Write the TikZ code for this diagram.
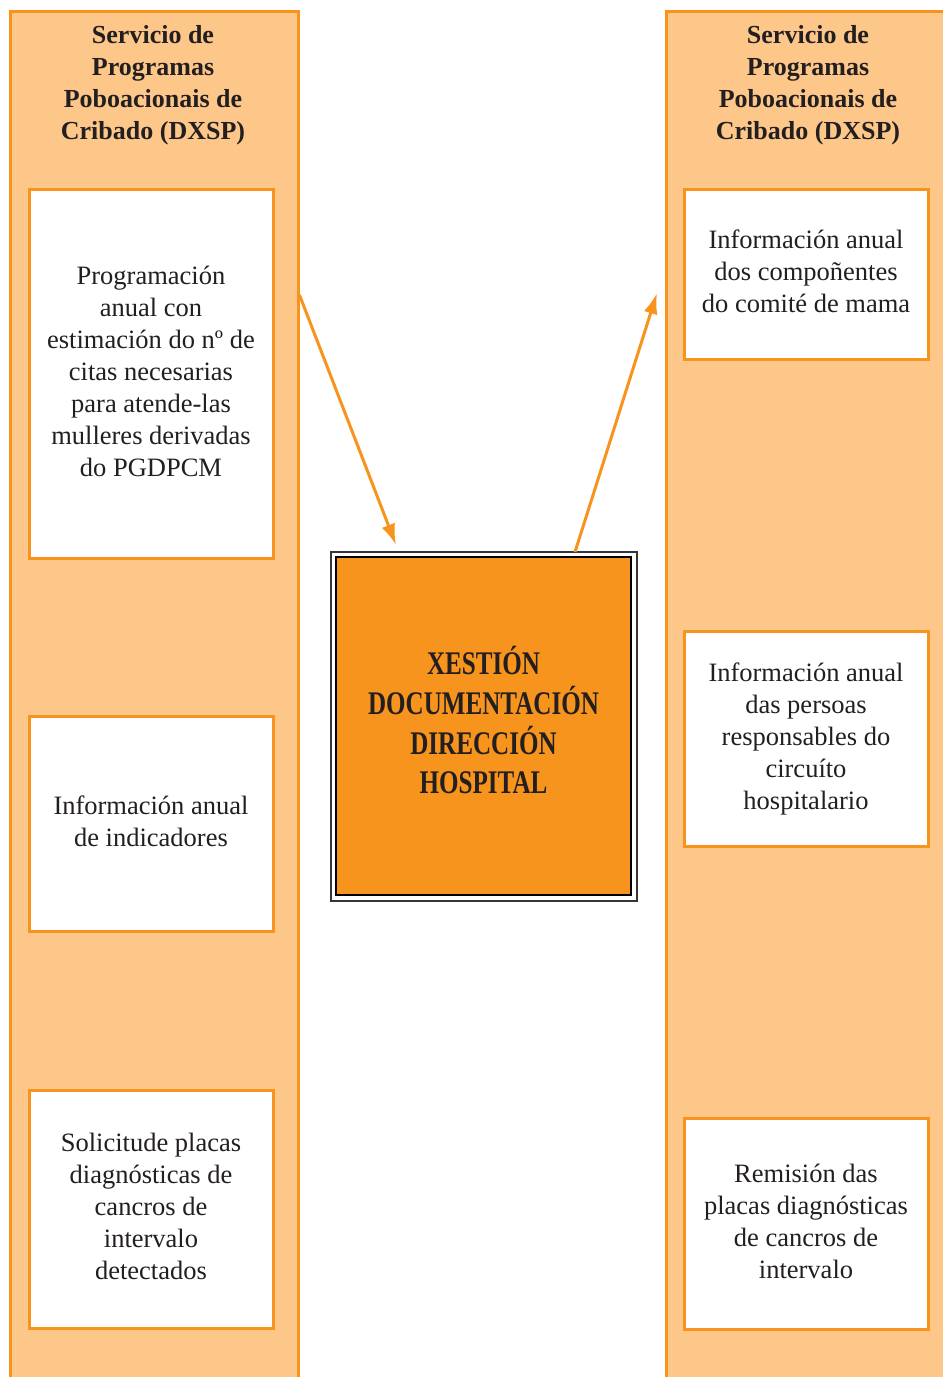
\documentclass[tikz,border=0pt]{standalone}
\usepackage{fontspec}
\setmainfont{Liberation Serif}
\newfontfamily\condfont[FakeStretch=0.76]{Liberation Serif}
\usetikzlibrary{arrows.meta}
\definecolor{panelfill}{HTML}{FDC78A}
\definecolor{orangeline}{HTML}{F7941D}
\definecolor{centerfill}{HTML}{F7941D}
\definecolor{ink}{HTML}{231F20}
\newcommand\stacklines[2]{\raisebox{#1}{\begin{tabular}{@{}c@{}}#2\end{tabular}}}
\tikzset{
  panel/.style={draw=orangeline, fill=panelfill, line width=2.5pt},
  infobox/.style={draw=orangeline, fill=white, line width=3pt, minimum width=244pt, align=center, text=ink,
    font=\fontsize{26.5}{32}\selectfont, inner sep=0pt, anchor=north},
  header/.style={align=center, text=ink, font=\fontsize{26}{32}\selectfont\bfseries, anchor=north},
  flow/.style={draw=orangeline, line width=3pt, -{Latex[length=21pt,width=14pt]}},
}
\begin{document}
\begin{tikzpicture}[x=1pt,y=-1pt]
\useasboundingbox (0,0) rectangle (943,1377);
\clip (0,0) rectangle (943,1377);
% panels
\node[panel, minimum width=288pt, minimum height=1400pt, anchor=north west, inner sep=0pt] (lp) at (9,10) {};
\node[panel, minimum width=300pt, minimum height=1400pt, anchor=north west, inner sep=0pt] (rp) at (665,10) {};
% headers
\node[header] (lh) at (153,22) {Servicio de\\Programas\\Poboacionais de\\Cribado (DXSP)};
\node[header] (rh) at (808,22) {Servicio de\\Programas\\Poboacionais de\\Cribado (DXSP)};
% left boxes
\node[infobox, minimum height=369pt] (l1) at (151,188) {\stacklines{3.5pt}{Programación\\anual con\\estimación do nº de\\citas necesarias\\para atende-las\\mulleres derivadas\\do PGDPCM}};
\node[infobox, minimum height=215pt] (l2) at (151,715) {\stacklines{3.5pt}{Información anual\\de indicadores}};
\node[infobox, minimum height=238pt] (l3) at (151,1089) {\stacklines{3.5pt}{Solicitude placas\\diagnósticas de\\cancros de\\intervalo\\detectados}};
% right boxes
\node[infobox, minimum height=170pt] (r1) at (806,188) {\stacklines{3.5pt}{Información anual\\dos compoñentes\\do comité de mama}};
\node[infobox, minimum height=215pt] (r2) at (806,630) {\stacklines{3.5pt}{Información anual\\das persoas\\responsables do\\circuíto\\hospitalario}};
\node[infobox, minimum height=211pt] (r3) at (806,1117) {\stacklines{3.5pt}{Remisión das\\placas diagnósticas\\de cancros de\\intervalo}};
% center box
\node[draw=black, line width=2pt, fill=centerfill, minimum width=295pt, minimum height=338pt, inner sep=0pt,
  align=center, text=ink, font=\fontsize{33}{39}\selectfont\condfont\bfseries] (c) at (483.5,726)
  {\stacklines{5.5pt}{XESTIÓN\\DOCUMENTACIÓN\\DIRECCIÓN\\HOSPITAL}};
\draw[draw=ink!90, line width=2pt] ([shift={(-4.5pt,4.5pt)}]c.north west) rectangle ([shift={(4.5pt,-4.5pt)}]c.south east);
% arrows
\coordinate (a1s) at (lp.east |- 0,295);
\coordinate (a1e) at (396,545);
\coordinate (a2s) at (575,552);
\coordinate (a2e) at (657,293);
\draw[flow] (a1s) -- (a1e);
\draw[flow] (a2s) -- (a2e);
\end{tikzpicture}
\end{document}
